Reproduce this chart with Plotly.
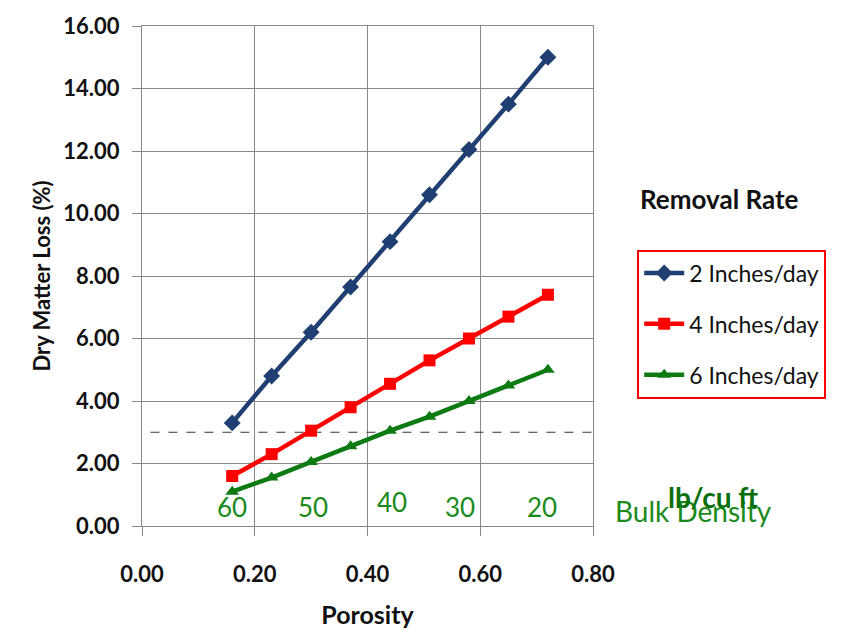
import plotly.graph_objects as go

porosity = [0.16, 0.23, 0.30, 0.37, 0.44, 0.51, 0.58, 0.65, 0.72]
loss_2in = [3.3, 4.8, 6.2, 7.65, 9.1, 10.6, 12.05, 13.5, 15.0]
loss_4in = [1.6, 2.3, 3.05, 3.8, 4.55, 5.3, 6.0, 6.7, 7.4]
loss_6in = [1.1, 1.55, 2.05, 2.55, 3.05, 3.5, 4.0, 4.5, 5.0]
series_names = ["2 Inches/day", "4 Inches/day", "6 Inches/day"]

bulk_labels = ["60", "50", "40", "30", "20"]
bulk_x = [0.16, 0.304, 0.443, 0.564, 0.71]
bulk_y = [0.02, 0.02, 0.2, 0.02, 0.02]
threshold = 3.0

FONT = "Lato"
fig = go.Figure()

fig.add_trace(go.Scatter(x=[0.015, 0.80], y=[threshold, threshold], mode="lines",
                         line=dict(color="#333333", width=1.2, dash="dash"),
                         showlegend=False, hoverinfo="skip"))

styles = [
    dict(color="#1F3F73", symbol="diamond", size=13),
    dict(color="#FF0000", symbol="square", size=12),
    dict(color="#0E7A12", symbol="triangle-up", size=12),
]
for i, (vals, name, st) in enumerate(zip([loss_2in, loss_4in, loss_6in], series_names, styles)):
    fig.add_trace(go.Scatter(
        x=porosity, y=vals, mode="lines+markers", name=name, legendgroup=str(i),
        line=dict(color=st["color"], width=4.5),
        marker=dict(color=st["color"], symbol=st["symbol"], size=st["size"]),
    ))

for lbl, x, y in zip(bulk_labels, bulk_x, bulk_y):
    fig.add_annotation(x=x, y=y, text=lbl, showarrow=False, xanchor="center", yanchor="bottom",
                       font=dict(family=FONT, size=26, color="#1A8A1A"))

fig.add_annotation(xref="paper", yref="paper", x=1.222, y=-0.008, text="Bulk Density",
                   showarrow=False, xanchor="center", yanchor="bottom",
                   font=dict(family=FONT, size=28, color="#1A8A1A"))
fig.add_annotation(xref="paper", yref="paper", x=1.266, y=0.02, text="<b>lb/cu ft</b>",
                   showarrow=False, xanchor="center", yanchor="bottom",
                   font=dict(family=FONT, size=28, color="#0A6E0A"))
fig.add_annotation(xref="paper", yref="paper", x=1.100, y=0.655, text="<b>Removal Rate</b>",
                   showarrow=False, xanchor="left", yanchor="middle",
                   font=dict(family=FONT, size=26, color="#111111"))

fig.update_layout(
    width=843, height=637,
    margin=dict(l=142, r=250, t=22, b=111),
    paper_bgcolor="white", plot_bgcolor="white",
    font=dict(family=FONT, color="#111111"),
    legend=dict(x=1.098, y=0.553, xanchor="left", yanchor="top",
                bordercolor="#FF0000", borderwidth=2, bgcolor="white",
                font=dict(family=FONT, size=23, color="#111111"),
                tracegroupgap=18, traceorder="grouped", itemwidth=40),
    xaxis=dict(range=[0, 0.8], tickvals=[0, 0.2, 0.4, 0.6, 0.8],
               ticktext=["<b>0.00</b>", "<b>0.20</b>", "<b>0.40</b>", "<b>0.60</b>", "<b>0.80</b>"],
               showgrid=True, gridcolor="#888888", gridwidth=1, zeroline=False,
               ticks="outside", ticklen=9, tickcolor="#888888",
               ticklabelstandoff=20,
               tickfont=dict(family=FONT, size=22, color="#111111"),
               title=dict(text="<b>Porosity</b>", font=dict(family=FONT, size=25, color="#111111"),
                          standoff=20),
               showline=True, linecolor="#888888", linewidth=1, mirror=True),
    yaxis=dict(range=[0, 16], tickvals=[0, 2, 4, 6, 8, 10, 12, 14, 16],
               ticktext=["<b>%.2f</b>" % v for v in [0, 2, 4, 6, 8, 10, 12, 14, 16]],
               showgrid=True, gridcolor="#888888", gridwidth=1, zeroline=False,
               ticks="outside", ticklen=9, tickcolor="#888888",
               ticklabelstandoff=8,
               tickfont=dict(family=FONT, size=22, color="#111111"),
               title=dict(text="<b>Dry Matter Loss (%)</b>", font=dict(family=FONT, size=22, color="#111111"),
                          standoff=6),
               showline=True, linecolor="#888888", linewidth=1, mirror=True),
)

fig.write_html("out.html")
